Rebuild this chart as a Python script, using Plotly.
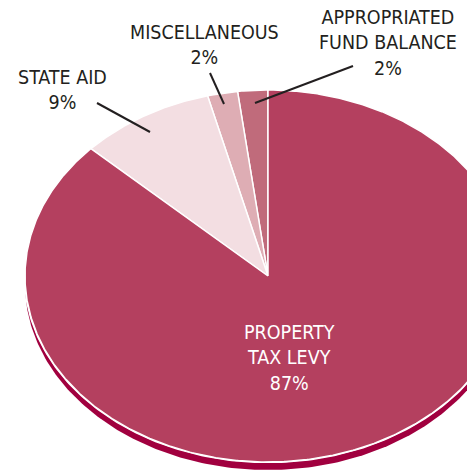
import numpy as np
import plotly.graph_objects as go

# revenue sources, counter-clockwise from 12 o'clock
labels = ["APPROPRIATED<br>FUND BALANCE", "MISCELLANEOUS", "STATE AID", "PROPERTY<br>TAX LEVY"]
shares = [2, 2, 9, 87]
colors = ["#C06B7B", "#DEADB4", "#F3DEE2", "#B4405F"]

W, H = 467, 470
CX, CY, RX, RY = 268, 276, 243, 186
DEPTH = 8
FONT = "Liberation Sans Narrow, DejaVu Sans Condensed, Arial Narrow, sans-serif"

fig = go.Figure()

def ellipse_pts(a0, a1, dy=0, n=200):
    t = np.linspace(a0, a1, n)
    return CX - RX * np.sin(t), CY + dy - RY * np.cos(t)

# depth / shadow of the disc
sx, sy = ellipse_pts(0, 2 * np.pi, DEPTH, 400)
fig.add_trace(go.Scatter(x=sx, y=sy, fill="toself", fillcolor="#A1003F",
                         line=dict(color="#A1003F", width=0), mode="lines", hoverinfo="skip"))
# white rim
ex, ey = ellipse_pts(0, 2 * np.pi, 0, 400)
fig.add_trace(go.Scatter(x=ex, y=ey, fill="toself", fillcolor="white",
                         line=dict(color="white", width=2.5), mode="lines", hoverinfo="skip"))

total = sum(shares)
start = 0.0
for lab, v, c in zip(labels, shares, colors):
    a0 = start / total * 2 * np.pi
    a1 = (start + v) / total * 2 * np.pi
    px, py = ellipse_pts(a0, a1, 0, max(4, int(v * 8)))
    xs = np.concatenate([[CX], px, [CX]])
    ys = np.concatenate([[CY], py, [CY]])
    fig.add_trace(go.Scatter(x=xs, y=ys, fill="toself", fillcolor=c,
                             line=dict(color="white", width=1.5), mode="lines",
                             name=lab, hoverinfo="name"))
    start += v

txt = [f"{l}<br>{v}%" for l, v in zip(labels, shares)]

# outside labels with leader lines
outside = [
    (txt[0], 388, 43, (353, 66), (255, 103)),
    (txt[1], 204, 45, (210, 73), (224, 104)),
    (txt[2], 62, 90, (97, 103), (150, 132)),
]
for t, x, y, p0, p1 in outside:
    fig.add_annotation(x=x, y=y, text=t, showarrow=False, xref="x", yref="y",
                       font=dict(family=FONT, size=19.5, color="#231F20"))
    fig.add_shape(type="line", x0=p0[0], y0=p0[1], x1=p1[0], y1=p1[1],
                  line=dict(color="#231F20", width=2))

fig.add_annotation(x=289, y=358, text=txt[3], showarrow=False, xref="x", yref="y",
                   font=dict(family=FONT, size=19.5, color="white"))

fig.update_layout(
    width=W, height=H, margin=dict(l=0, r=0, t=0, b=0),
    paper_bgcolor="white", plot_bgcolor="white", showlegend=False,
    xaxis=dict(range=[0, W], visible=False, fixedrange=True),
    yaxis=dict(range=[H, 0], visible=False, fixedrange=True),
)

fig.write_html("out.html", config={"displayModeBar": False},
               post_script="document.body.style.margin='0';document.body.style.overflow='hidden';")
